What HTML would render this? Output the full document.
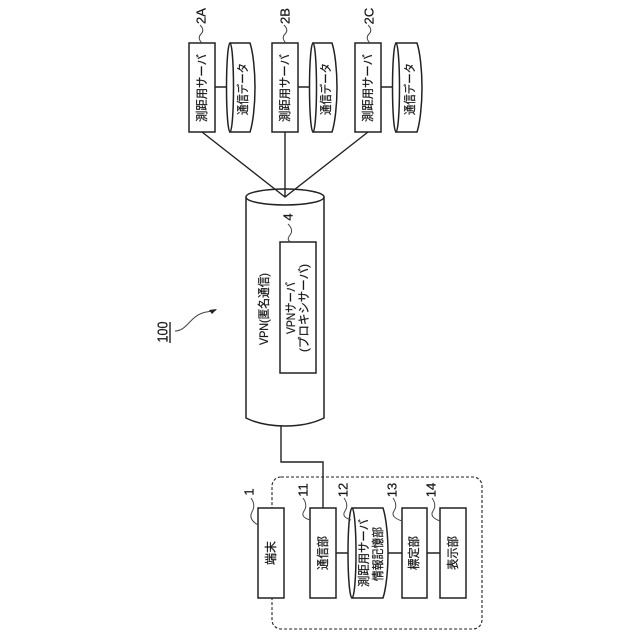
<!DOCTYPE html>
<html><head><meta charset="utf-8"><style>
html,body{margin:0;padding:0;background:#fff}
svg{display:block}
text{font-family:"Liberation Sans","Noto Sans CJK JP",sans-serif;fill:#1a1a1a;stroke:#1a1a1a;stroke-width:.25;text-anchor:middle;dominant-baseline:central}
.s{fill:#fff;stroke:#222;stroke-width:1.5}
.l{fill:none;stroke:#222;stroke-width:1.4}
.q{fill:none;stroke:#444;stroke-width:1}
</style></head><body>
<svg width="640" height="640" viewBox="0 0 640 640" xmlns="http://www.w3.org/2000/svg">
<!-- top connectors -->
<path class="l" d="M215 87H227M298 87H309M381 87H392"/>
<!-- top group -->
<rect class="s" x="189" y="43" width="26" height="89"/>
<rect class="s" x="272" y="43" width="26" height="89"/>
<rect class="s" x="355" y="43" width="26" height="89"/>
<path class="s" d="M230 43H250C253 52 255 70 255 87.5S253 123 250 132H230Z"/>
<ellipse class="s" cx="230" cy="87.5" rx="3.5" ry="44.5"/>
<path class="s" d="M313 43H332C335 52 337 70 337 87.5S335 123 332 132H313Z"/>
<ellipse class="s" cx="313" cy="87.5" rx="3.5" ry="44.5"/>
<path class="s" d="M396 43H417C420 52 422 70 422 87.5S420 123 417 132H396Z"/>
<ellipse class="s" cx="396" cy="87.5" rx="3.5" ry="44.5"/>
<g font-size="12">
<text transform="translate(202 88) rotate(-90)" textLength="68" lengthAdjust="spacingAndGlyphs">測距用サーバ</text>
<text transform="translate(285 88) rotate(-90)" textLength="68" lengthAdjust="spacingAndGlyphs">測距用サーバ</text>
<text transform="translate(368 88) rotate(-90)" textLength="68" lengthAdjust="spacingAndGlyphs">測距用サーバ</text>
<text transform="translate(243 89) rotate(-90)" textLength="52" lengthAdjust="spacingAndGlyphs">通信データ</text>
<text transform="translate(326 89) rotate(-90)" textLength="52" lengthAdjust="spacingAndGlyphs">通信データ</text>
<text transform="translate(410 89) rotate(-90)" textLength="52" lengthAdjust="spacingAndGlyphs">通信データ</text>
</g>
<g font-size="13">
<text transform="translate(201 16) rotate(-90)">2A</text>
<text transform="translate(285 16) rotate(-90)">2B</text>
<text transform="translate(369 16) rotate(-90)">2C</text>
</g>
<path class="q" d="M200 25Q205 30 201 34T202 43M284 25Q289 30 285 34T286 43M368 25Q373 30 369 34T370 43"/>
<!-- main cylinder -->
<path class="l" d="M281 425V462H323V508"/>
<path class="s" d="M246 197V418Q262 426 285 426T324 418V197"/>
<ellipse class="s" cx="285" cy="197" rx="39" ry="8"/>
<path class="l" d="M202 132L285 197L368 132M285 132V197"/>
<rect class="s" x="280" y="242" width="36" height="131"/>
<text transform="translate(264 309) rotate(-90)" font-size="12" textLength="72" lengthAdjust="spacingAndGlyphs">VPN(匿名通信)</text>
<text transform="translate(291 308) rotate(-90)" font-size="12" textLength="52" lengthAdjust="spacingAndGlyphs">VPNサーバ</text>
<text transform="translate(304 308) rotate(-90)" font-size="12" textLength="88" lengthAdjust="spacingAndGlyphs">(プロキシサーバ)</text>
<text transform="translate(288 217) rotate(-90)" font-size="13">4</text>
<path class="q" d="M288 224Q294 230 290 235T291 242"/>
<!-- 100 -->
<text transform="translate(163 332) rotate(-90)" font-size="15" textLength="21" lengthAdjust="spacingAndGlyphs">100</text>
<path class="l" d="M170 322V343"/>
<path class="q" d="M175 331C186 331 190 318 200 314C206 311 210 312 216 310"/>
<path d="M217 309L209 310L212 314Z" fill="#222"/>
<!-- dashed group -->
<rect x="272" y="477" width="210" height="152" rx="9" ry="9" fill="none" stroke="#222" stroke-width="1.1" stroke-dasharray="3 2"/>
<path class="l" d="M336 553H348M388 553H402M427 553H440"/>
<rect class="s" x="258" y="508" width="26" height="90"/>
<rect class="s" x="310" y="508" width="26" height="90"/>
<path class="s" d="M352 508H383C386 517 388 535 388 553S386 589 383 598H352Z"/>
<ellipse class="s" cx="352" cy="553" rx="4" ry="45"/>
<rect class="s" x="402" y="508" width="25" height="90"/>
<rect class="s" x="440" y="508" width="26" height="90"/>
<g font-size="12">
<text transform="translate(271 553) rotate(-90)" textLength="24" lengthAdjust="spacingAndGlyphs">端末</text>
<text transform="translate(323 553) rotate(-90)" textLength="34" lengthAdjust="spacingAndGlyphs">通信部</text>
<text transform="translate(364 553) rotate(-90)" textLength="68" lengthAdjust="spacingAndGlyphs">測距用サーバ</text>
<text transform="translate(378 554) rotate(-90)" textLength="54" lengthAdjust="spacingAndGlyphs">情報記憶部</text>
<text transform="translate(414 553) rotate(-90)" textLength="34" lengthAdjust="spacingAndGlyphs">標定部</text>
<text transform="translate(453 553) rotate(-90)" textLength="34" lengthAdjust="spacingAndGlyphs">表示部</text>
</g>
<g font-size="13">
<text transform="translate(249 492) rotate(-90)">1</text>
<text transform="translate(303 490) rotate(-90)">11</text>
<text transform="translate(343 490) rotate(-90)">12</text>
<text transform="translate(392 490) rotate(-90)">13</text>
<text transform="translate(431 490) rotate(-90)">14</text>
</g>
<path class="q" d="M251 498Q256 505 252 512T258 525M303 498Q308 505 304 511T310 520M344 498Q349 505 345 511T351 520M393 498Q398 505 394 511T402 521M432 498Q437 505 433 511T440 521"/>
</svg>
</body></html>
